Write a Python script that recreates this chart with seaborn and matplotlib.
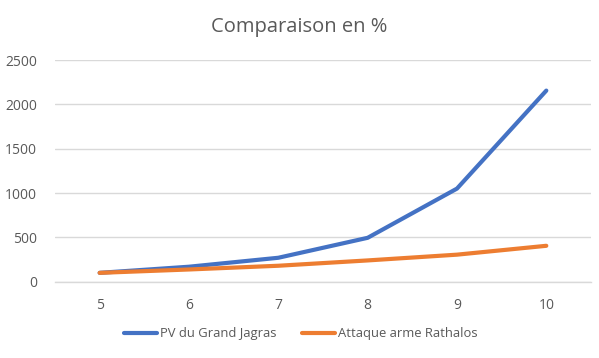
import matplotlib
matplotlib.use("Agg")
import matplotlib.pyplot as plt
import pandas as pd
import seaborn as sns

# values
niveaux = [5, 6, 7, 8, 9, 10]
pv_grand_jagras = [100, 169, 270, 495, 1050, 2155]
attaque_rathalos = [100, 138, 180, 240, 305, 405]
series_names = ["PV du Grand Jagras", "Attaque arme Rathalos"]
y_ticks = [0, 500, 1000, 1500, 2000, 2500]

df = pd.DataFrame({
    "niveau": niveaux * 2,
    "valeur": pv_grand_jagras + attaque_rathalos,
    "serie": [series_names[0]] * len(niveaux) + [series_names[1]] * len(niveaux),
})

sns.set_style("white")
plt.rcParams["font.family"] = ["Open Sans", "DejaVu Sans"]

fig = plt.figure(figsize=(5.99, 3.58), dpi=100)
ax = fig.add_axes([0.0918, 0.2131, 0.8948, 0.6193])

sns.lineplot(data=df, x="niveau", y="valeur", hue="serie",
             palette=["#4472C4", "#ED7D31"], linewidth=3,
             solid_capstyle="round", ax=ax, legend=False)

ax.set_xlim(4.5, 10.5)
ax.set_ylim(0, 2500)
ax.set_xticks(niveaux)
ax.set_yticks(y_ticks)
ax.set_xlabel("")
ax.set_ylabel("")
ax.grid(axis="y", color="#D9D9D9", linewidth=1)
ax.set_axisbelow(True)
for s in ["top", "right", "left"]:
    ax.spines[s].set_visible(False)
ax.spines["bottom"].set_color("#D9D9D9")
ax.spines["bottom"].set_linewidth(1)
ax.tick_params(axis="both", length=0, labelsize=10, labelcolor="#595959")
ax.tick_params(axis="x", pad=12)
ax.tick_params(axis="y", pad=13)

fig.suptitle("Comparaison en %", x=0.5, y=1 - 27 / 358, va="center",
             fontsize=14.5, color="#595959")

handles = [plt.Line2D([], [], color=c, linewidth=3)
           for c in ["#4472C4", "#ED7D31"]]
fig.legend(handles, series_names, loc="center", ncol=2,
           bbox_to_anchor=(301 / 599, 1 - 334 / 358), frameon=False,
           fontsize=9.4, labelcolor="#595959", handlelength=2.5,
           handletextpad=0.25, columnspacing=2.0)

fig.savefig("out.png", dpi=100)
